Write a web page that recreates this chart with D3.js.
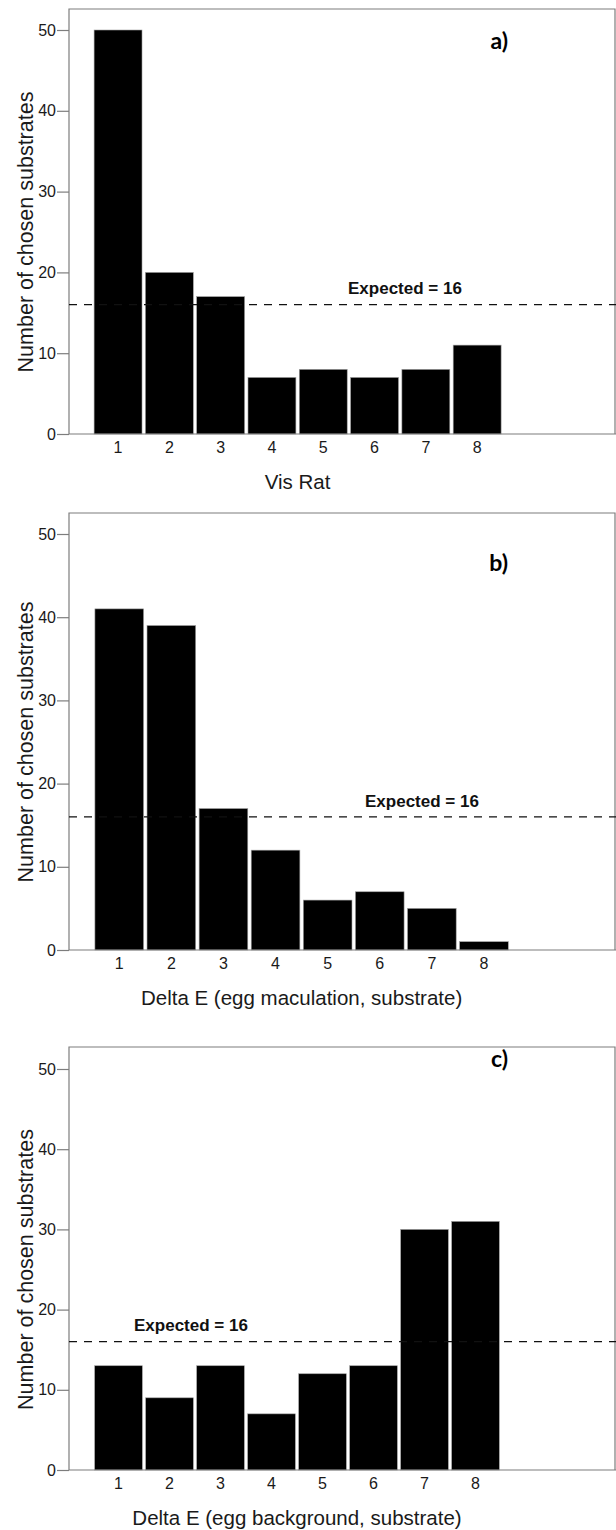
<!DOCTYPE html>
<html>
<head>
<meta charset="utf-8">
<script src="https://cdn.jsdelivr.net/npm/d3@7/dist/d3.min.js"></script>
<style>
  html, body { margin: 0; padding: 0; background: #fff; }
  svg { display: block; }
</style>
</head>
<body>
<svg id="chart" width="616" height="1530"></svg>
<script>
// Substrate choice counts per rank class, three colour metrics
const categories = ["1", "2", "3", "4", "5", "6", "7", "8"];
const visRatCounts = [50, 20, 17, 7, 8, 7, 8, 11];
const maculationCounts = [41, 39, 17, 12, 6, 7, 5, 1];
const backgroundCounts = [13, 9, 13, 7, 12, 13, 30, 31];
const yTickValues = [0, 10, 20, 30, 40, 50];
const expectedCount = 16;
const expectedLabel = "Expected = 16";
const yTitle = "Number of chosen substrates";
const xTitles = ["Vis Rat", "Delta E (egg maculation, substrate)", "Delta E (egg background, substrate)"];
const panelTags = ["a)", "b)", "c)"];

// Layout of the three stacked panels (pixels)
const panels = [
  { values: visRatCounts,     top: 9,    y0: 434,  y50: 30,   xr: [92.4, 502.8], tagY: 49,   expX: 348, expY: 294 },
  { values: maculationCounts, top: 513,  y0: 950,  y50: 534,  xr: [93.2, 510.0], tagY: 571,  expX: 365, expY: 807 },
  { values: backgroundCounts, top: 1047, y0: 1470, y50: 1069, xr: [93.0, 501.0], tagY: 1067, expX: 134, expY: 1331 }
];

const frameLeft = 69;
const frameRight = 615;
const axisColor = "#7d7d7d";
const textColor = "#1a1a1a";
const sans = "'Liberation Sans', Arial, sans-serif";

const svg = d3.select("#chart");

panels.forEach((p, i) => {
  const g = svg.append("g");

  const y = d3.scaleLinear().domain([0, 50]).range([p.y0, p.y50]);
  const x = d3.scaleBand().domain(categories).range(p.xr)
    .paddingInner(0.066).paddingOuter(0.033);

  // frame: left, top and right edges
  g.append("path")
    .attr("d", `M${frameLeft},${p.y0}V${p.top}H${frameRight}V${p.y0}`)
    .attr("fill", "none")
    .attr("stroke", axisColor)
    .attr("stroke-width", 1.2);

  // bars
  g.selectAll("rect.bar")
    .data(p.values)
    .join("rect")
    .attr("class", "bar")
    .attr("x", (d, j) => x(categories[j]))
    .attr("width", x.bandwidth())
    .attr("y", d => y(d))
    .attr("height", d => p.y0 - y(d))
    .attr("fill", "#000")
    .attr("stroke", "#a0a0a0")
    .attr("stroke-width", 0.6);

  // y axis
  const yAxis = d3.axisLeft(y).tickValues(yTickValues).tickSize(12).tickPadding(1)
    .tickFormat(d3.format("d"));
  const ya = g.append("g")
    .attr("transform", `translate(${frameLeft},0)`)
    .call(yAxis);
  ya.select(".domain").remove();
  ya.selectAll(".tick line").attr("stroke", axisColor).attr("stroke-width", 1.2);
  ya.selectAll(".tick text")
    .attr("fill", textColor)
    .style("font-family", sans)
    .style("font-size", "16px");

  // x baseline running to the right edge
  g.append("line")
    .attr("x1", frameLeft).attr("x2", 616)
    .attr("y1", p.y0).attr("y2", p.y0)
    .attr("stroke", axisColor)
    .attr("stroke-width", 1.2);

  // x axis labels
  const xAxis = d3.axisBottom(x).tickSize(0).tickPadding(8);
  const xa = g.append("g")
    .attr("transform", `translate(0,${p.y0})`)
    .call(xAxis);
  xa.select(".domain").remove();
  xa.selectAll(".tick text")
    .attr("fill", textColor)
    .style("font-family", sans)
    .style("font-size", "16px");

  // axis titles
  const xMid = (p.xr[0] + p.xr[1]) / 2;
  g.append("text")
    .attr("x", xMid)
    .attr("y", p.y0 + 55)
    .attr("text-anchor", "middle")
    .attr("fill", textColor)
    .style("font-family", sans)
    .style("font-size", "20.5px")
    .text(xTitles[i]);

  g.append("text")
    .attr("transform", `translate(25,${y(25)}) rotate(-90)`)
    .attr("text-anchor", "middle")
    .attr("dy", "0.35em")
    .attr("fill", textColor)
    .style("font-family", sans)
    .style("font-size", "21.5px")
    .text(yTitle);

  // expected reference line
  g.append("line")
    .attr("x1", frameLeft).attr("x2", 616)
    .attr("y1", y(expectedCount)).attr("y2", y(expectedCount))
    .attr("stroke", "#111")
    .attr("stroke-width", 1.3)
    .attr("stroke-dasharray", "8,7");

  g.append("text")
    .attr("x", p.expX)
    .attr("y", p.expY)
    .attr("fill", "#111")
    .style("font-family", sans)
    .style("font-weight", "bold")
    .style("font-size", "17px")
    .text(expectedLabel);

  // panel tag
  g.append("text")
    .attr("x", 508)
    .attr("y", p.tagY)
    .attr("text-anchor", "end")
    .attr("fill", "#000")
    .style("font-family", "Lato, 'Open Sans', sans-serif")
    .style("font-weight", "bold")
    .style("font-size", "23px")
    .text(panelTags[i]);
});
</script>
</body>
</html>
